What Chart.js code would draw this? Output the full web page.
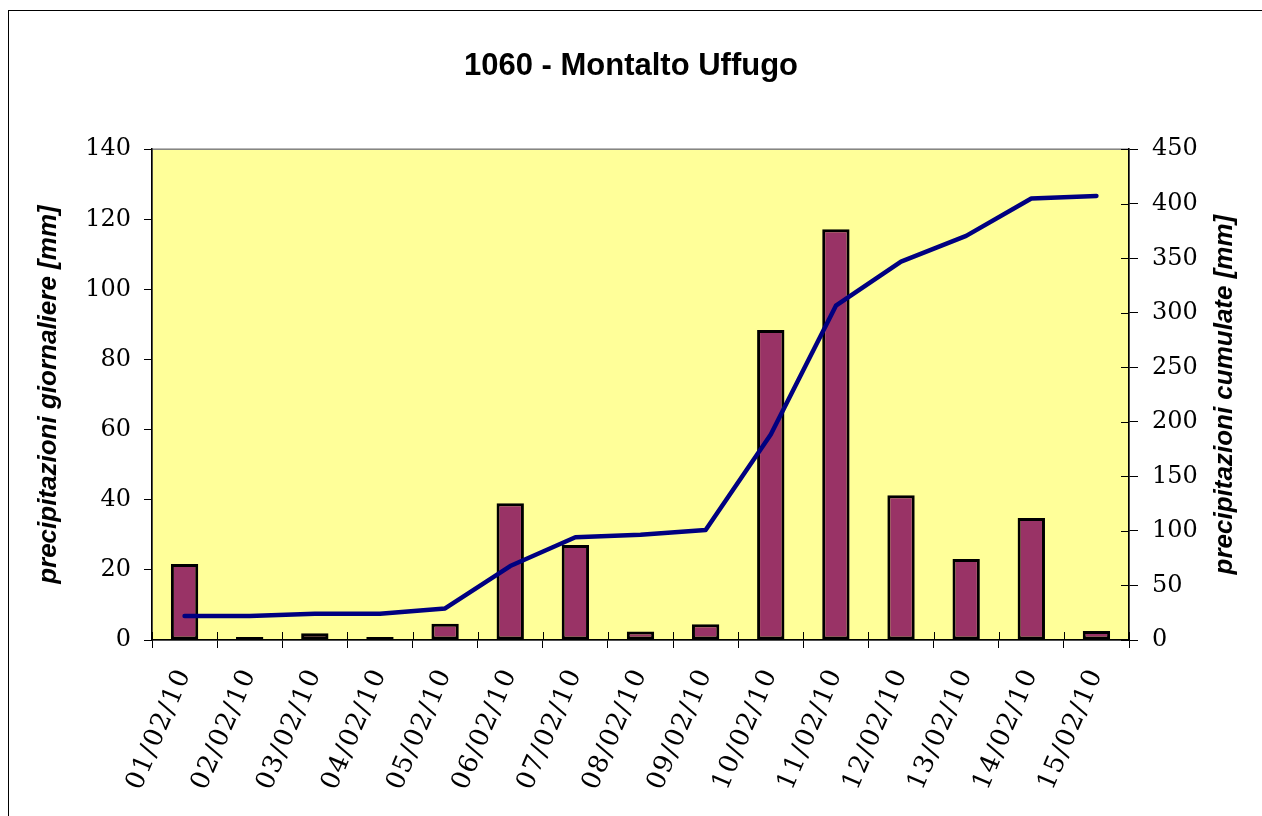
<!DOCTYPE html>
<html>
<head>
<meta charset="utf-8">
<title>1060 - Montalto Uffugo</title>
<script src="https://cdn.jsdelivr.net/npm/chart.js@4"></script>
<style>
  html, body { margin: 0; padding: 0; background: #fff; overflow: hidden; }
  #wrap { position: relative; width: 1262px; height: 816px; }
  #frame { position: absolute; left: 8px; top: 10px; width: 2000px; height: 2000px; border: 1px solid #000; }
  #chart { position: absolute; left: 0; top: 0; }
</style>
</head>
<body>
<div id="wrap">
  <div id="frame"></div>
  <canvas id="chart" width="1262" height="816"></canvas>
</div>
<script>
// chart data
const days = ['01/02/10', '02/02/10', '03/02/10', '04/02/10', '05/02/10', '06/02/10', '07/02/10', '08/02/10',
              '09/02/10', '10/02/10', '11/02/10', '12/02/10', '13/02/10', '14/02/10', '15/02/10'];
const dailyRain = [21.7, 0.2, 1.9, 0.2, 4.6, 39.0, 27.1, 2.4, 4.5, 88.4, 117.2, 41.3, 23.1, 34.8, 2.6];
const cumulativeRain = [22, 22, 24, 24, 28.9, 67.8, 94.2, 96.5, 100.8, 188.5, 306.5, 347, 370.5, 404.8, 407.2];
const leftTicks = { min: 0, max: 140, step: 20 };
const rightTicks = { min: 0, max: 450, step: 50 };

const tickFont = { family: 'DejaVu Serif', size: 24 };
const dateFont = { family: 'DejaVu Serif', size: 26 };
const axisTitleFont = { family: 'Liberation Sans', size: 26, weight: 'bold', style: 'italic' };

// yellow plot area with grey border
const plotBackground = {
    id: 'plotBackground',
    beforeDraw(chart) {
        const { ctx, chartArea: a } = chart;
        ctx.save();
        ctx.fillStyle = '#FFFF99';
        ctx.fillRect(a.left, a.top, a.right - a.left, a.bottom - a.top);
        ctx.strokeStyle = '#808080';
        ctx.lineWidth = 1.5;
        ctx.strokeRect(a.left, a.top, a.right - a.left, a.bottom - a.top);
        ctx.restore();
    }
};

// date labels are drawn a bit spaced out in the original
const spacedDateLabels = {
    id: 'spacedDateLabels',
    afterLayout(chart) {
        const s = chart.scales.x;
        if (!s || s._spaced) return;
        const orig = s.drawLabels.bind(s);
        s.drawLabels = function (area) {
            const ctx = this.ctx;
            ctx.save();
            ctx.letterSpacing = '1.5px';
            orig(area);
            ctx.restore();
        };
        s._spaced = true;
    }
};

// inner half of the crossing tick marks (x axis and right axis)
const crossTicks = {
    id: 'crossTicks',
    afterDraw(chart) {
        const { ctx, chartArea: a, scales } = chart;
        ctx.save();
        ctx.strokeStyle = '#000';
        ctx.lineWidth = 1;
        ctx.beginPath();
        const x = scales.x;
        for (let i = 0; i <= days.length; i++) {
            const px = Math.round(x.getPixelForValue(i - 0.5)) + 0.5;
            ctx.moveTo(px, a.bottom);
            ctx.lineTo(px, a.bottom - 8);
        }
        const y2 = scales.y2;
        y2.ticks.forEach(t => {
            const py = Math.round(y2.getPixelForValue(t.value)) + 0.5;
            ctx.moveTo(a.right, py);
            ctx.lineTo(a.right - 8, py);
        });
        ctx.stroke();
        ctx.restore();
    }
};

// right axis title reads bottom to top, like the left one
const rightTitle = {
    id: 'rightTitle',
    afterDraw(chart) {
        const { ctx, chartArea: a } = chart;
        ctx.save();
        ctx.translate(1225, (a.top + a.bottom) / 2);
        ctx.rotate(-Math.PI / 2);
        ctx.font = 'italic bold 26px "Liberation Sans"';
        ctx.fillStyle = '#000';
        ctx.textAlign = 'center';
        ctx.textBaseline = 'middle';
        ctx.fillText('precipitazioni cumulate [mm]', 0, 0);
        ctx.restore();
    }
};

new Chart(document.getElementById('chart'), {
    data: {
        labels: days,
        datasets: [
            {
                type: 'line',
                label: 'precipitazioni cumulate',
                data: cumulativeRain,
                yAxisID: 'y2',
                borderColor: '#000080',
                borderWidth: 4.5,
                borderCapStyle: 'round',
                borderJoinStyle: 'round',
                pointRadius: 0,
                tension: 0,
                order: 0
            },
            {
                type: 'bar',
                label: 'precipitazioni giornaliere',
                data: dailyRain,
                yAxisID: 'y',
                backgroundColor: '#993366',
                borderColor: '#000',
                borderWidth: 3,
                borderSkipped: false,
                minBarLength: 3,
                barPercentage: 0.42,
                categoryPercentage: 1,
                order: 1
            }
        ]
    },
    options: {
        responsive: false,
        devicePixelRatio: 1,
        animation: false,
        layout: { padding: 0 },
        plugins: {
            legend: { display: false },
            tooltip: { enabled: false },
            title: {
                display: true,
                text: '1060 - Montalto Uffugo',
                color: '#000',
                font: { family: 'Liberation Sans', size: 31, weight: 'bold' },
                padding: { top: 48, bottom: 64 }
            }
        },
        scales: {
            x: {
                offset: true,
                grid: { offset: true, drawOnChartArea: false, tickLength: 8, color: '#000' },
                border: { color: '#000', width: 1.5 },
                ticks: { font: dateFont, color: '#000', minRotation: 67, maxRotation: 67, padding: 16, autoSkip: false },
                afterFit(scale) { scale.height = 176; }
            },
            y: {
                position: 'left',
                min: leftTicks.min,
                max: leftTicks.max,
                ticks: { stepSize: leftTicks.step, font: tickFont, color: '#000', padding: 13 },
                grid: { drawOnChartArea: false, tickLength: 8, color: '#000' },
                border: { color: '#000', width: 1.5 },
                title: { display: true, text: 'precipitazioni giornaliere [mm]', color: '#000', font: axisTitleFont, padding: { top: 33, bottom: 0 } },
                afterFit(scale) { scale.width = 152; }
            },
            y2: {
                position: 'right',
                min: rightTicks.min,
                max: rightTicks.max,
                ticks: { stepSize: rightTicks.step, font: tickFont, color: '#000', padding: 14 },
                grid: { drawOnChartArea: false, tickLength: 9, color: '#000' },
                border: { color: '#000', width: 1.5 },
                afterFit(scale) { scale.width = 133; }
            }
        }
    },
    plugins: [plotBackground, spacedDateLabels, crossTicks, rightTitle]
});
</script>
</body>
</html>
